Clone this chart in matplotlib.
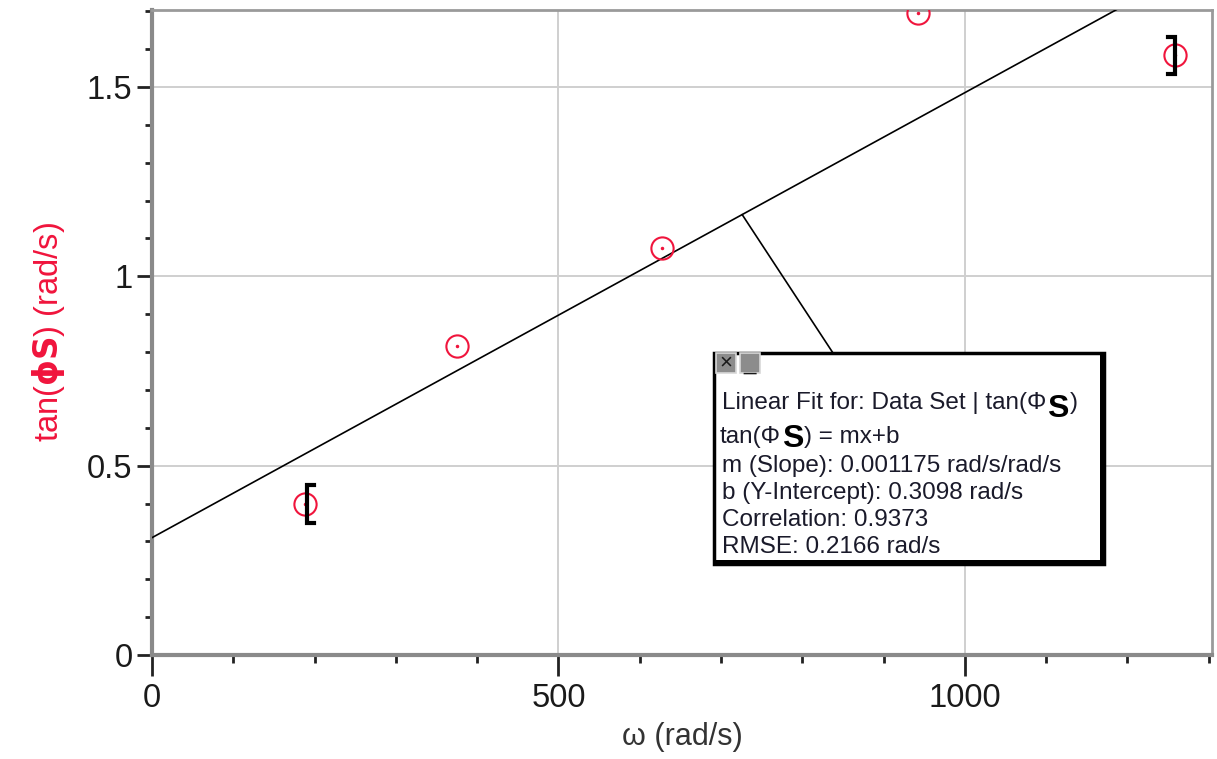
import numpy as np
import matplotlib
matplotlib.use("Agg")
import matplotlib.pyplot as plt
from matplotlib.patches import Rectangle
from matplotlib.ticker import MultipleLocator

plt.rcParams['font.family'] = ['Liberation Sans', 'DejaVu Sans']

# measured data: angular frequency vs tan of phase shift
omega = [188, 375, 627, 942, 1258]
tan_phi = [0.398, 0.817, 1.074, 1.695, 1.583]

# linear fit results
slope = 0.001175
intercept = 0.3098
correlation = 0.9373
rmse = 0.2166

W, H = 1217, 759
RED = "#f0143c"

fig = plt.figure(figsize=(W / 100, H / 100), dpi=100)
ax = fig.add_axes([152 / W, (H - 655) / H, (1212 - 152) / W, (655 - 10) / H])


def fpx(x, y):
    """top-left pixel -> figure fraction"""
    return x / W, (H - y) / H


ax.set_xlim(0, 1304)
ax.set_ylim(0, 1.703)

ax.xaxis.set_minor_locator(MultipleLocator(100))
ax.yaxis.set_minor_locator(MultipleLocator(0.1))
ax.set_xticks([0, 500, 1000])
ax.set_xticklabels(["0", "500", "1000"])
ax.set_yticks([0, 0.5, 1, 1.5])
ax.set_yticklabels(["0", "0.5", "1", "1.5"])

ax.grid(True, which="major", color="#cfcfcf", lw=1.4)
ax.set_axisbelow(True)

for side in ["left", "bottom"]:
    ax.spines[side].set_color("#8a8a8a")
    ax.spines[side].set_linewidth(3)
for side in ["top", "right"]:
    ax.spines[side].set_color("#9a9a9a")
    ax.spines[side].set_linewidth(2)

ax.tick_params(axis="x", which="major", length=15, width=2, color="#222222",
               labelsize=23.5, pad=5, labelcolor="#1a1a1a")
ax.tick_params(axis="x", which="minor", length=6, width=2, color="#222222")
ax.tick_params(axis="y", which="major", length=11, width=2, color="#222222",
               labelsize=23.5, pad=3, labelcolor="#1a1a1a")
ax.tick_params(axis="y", which="minor", length=5, width=2, color="#222222")

ax.set_xlabel("ω (rad/s)", fontsize=22, color="#333333", labelpad=6)
ax.set_ylabel(r"tan($\mathbf{\phi S}$) (rad/s)", fontsize=23.5, color=RED, labelpad=14)

# fit line
xs = np.array([0, 1304])
ax.plot(xs, slope * xs + intercept, color="black", lw=1.2, zorder=3)

# data points: open circles with a centre dot
ax.plot(omega, tan_phi, "o", ms=16, mfc="none", mec=RED, mew=1.5,
        linestyle="none", zorder=4)
ax.plot(omega, tan_phi, ".", ms=3, color=RED, zorder=4)

# range brackets at the first and last points
hw, hh = 8, 0.05
x0, y0 = omega[0] + 3, tan_phi[0]
ax.plot([x0 + hw, x0, x0, x0 + hw], [y0 - hh, y0 - hh, y0 + hh, y0 + hh],
        color="black", lw=3, zorder=5, solid_joinstyle="miter")
x1, y1 = omega[-1], tan_phi[-1]
ax.plot([x1 - hw, x1, x1, x1 - hw], [y1 - hh, y1 - hh, y1 + hh, y1 + hh],
        color="black", lw=3, zorder=5, solid_joinstyle="miter")

# leader from the fit line to the info box
xa = 726
ax.annotate("", xy=(xa, slope * xa + intercept), xycoords="data",
            xytext=(833, H - 353), textcoords="figure pixels",
            arrowprops=dict(arrowstyle="-", color="black", lw=1.2,
                            shrinkA=0, shrinkB=0))


def prect(x0, y0, x1, y1, **kw):
    """rectangle given by top-left pixel corners"""
    r = Rectangle(fpx(x0, y1), (x1 - x0) / W, (y1 - y0) / H,
                  transform=fig.transFigure, **kw)
    fig.add_artist(r)
    return r


# info box with a heavier right/bottom edge
prect(714, 353, 1104, 564, facecolor="white", edgecolor="black", lw=2.5, zorder=10)
prect(1100, 353, 1106, 566, facecolor="black", lw=0, zorder=11)
prect(714, 560, 1106, 566, facecolor="black", lw=0, zorder=11)

# close / minimise buttons
for bx, sym, ty in [(716, "×", 363), (740, "_", 364)]:
    prect(bx, 353, bx + 20, 373, facecolor="#8c8c8c", edgecolor="#d8d8d8",
          lw=1.2, zorder=12)
    fig.text(*fpx(bx + 10, ty), sym, ha="center", va="center",
             fontsize=16, color="#1a1a1a", zorder=13)

txt = dict(fontsize=17.5, color="#1a1a2a", zorder=13, va="baseline", ha="left")
big = dict(fontsize=23, fontweight="bold", color="black", ha="left",
           va="baseline", zorder=14)

head = fig.text(*fpx(722, 409), "Linear Fit for: Data Set | tan(Φ", **txt)
eq = fig.text(*fpx(720, 443), "tan(Φ", **txt)
fig.canvas.draw()
r1 = head.get_window_extent().x1
r2 = eq.get_window_extent().x1

s1 = fig.text((r1 + 1) / W, fpx(0, 417)[1], "S", **big)
s2 = fig.text((r2 + 1) / W, fpx(0, 447)[1], "S", **big)
fig.canvas.draw()
fig.text((s1.get_window_extent().x1 + 1) / W, fpx(0, 409)[1], ")", **txt)
fig.text((s2.get_window_extent().x1 + 1) / W, fpx(0, 443)[1], ") = mx+b", **txt)

fig.text(*fpx(722, 472), f"m (Slope): {slope} rad/s/rad/s", **txt)
fig.text(*fpx(722, 499), f"b (Y-Intercept): {intercept} rad/s", **txt)
fig.text(*fpx(722, 526), f"Correlation: {correlation}", **txt)
fig.text(*fpx(722, 553), f"RMSE: {rmse} rad/s", **txt)

fig.savefig("out.png", dpi=100)
